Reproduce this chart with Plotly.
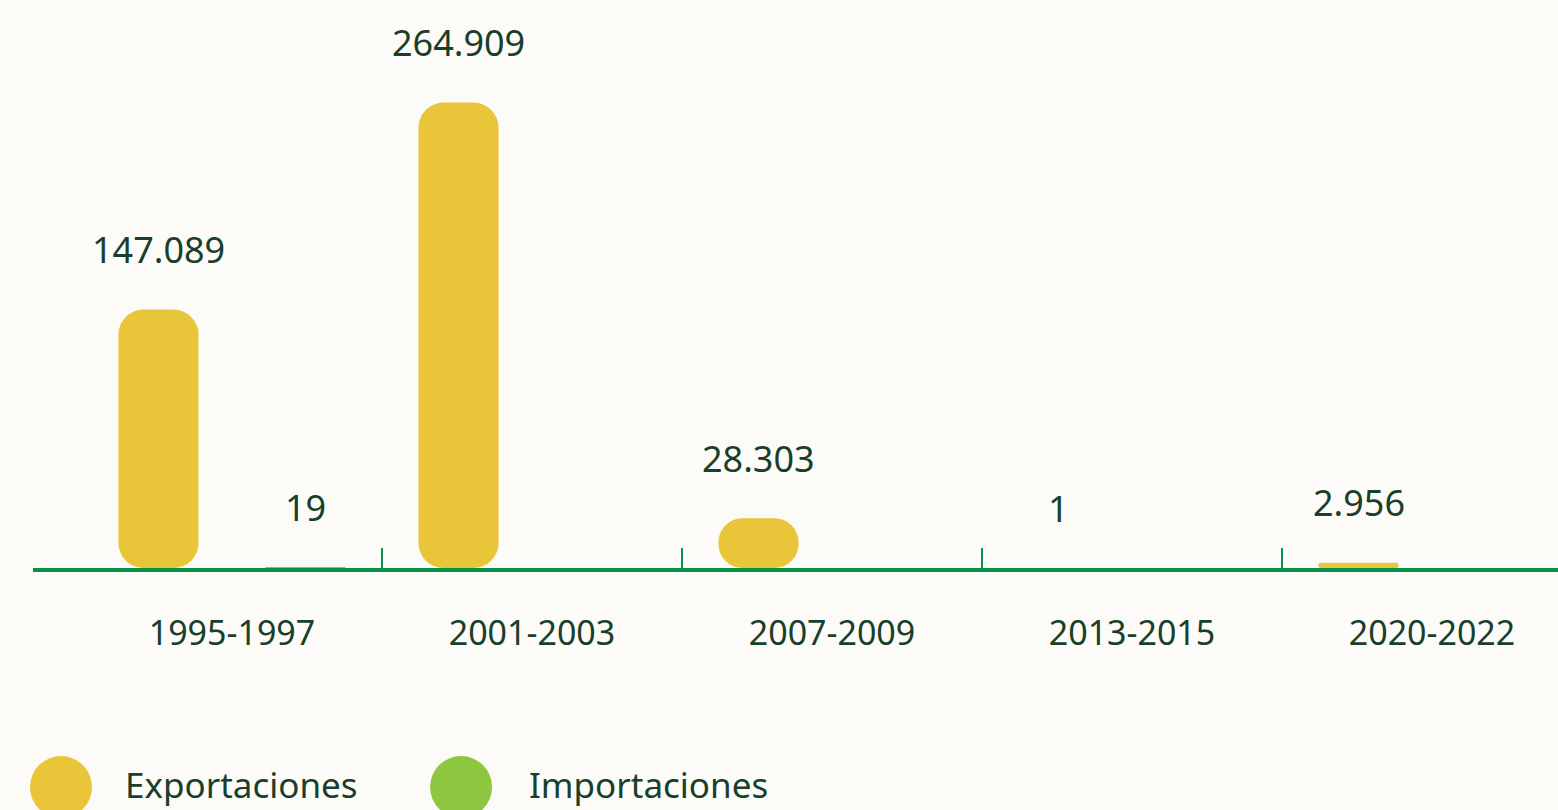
"""
Exportaciones / importaciones por periodo - barras redondeadas.
"""

import plotly.graph_objects as go


# ============================================================
# 1. Data
# ============================================================

periods = ["1995-1997", "2001-2003", "2007-2009", "2013-2015", "2020-2022"]
exports = [147089, 264909, 28303, 1, 2956]
imports = [19, None, None, None, None]

series_names = ["Exportaciones", "Importaciones"]


# ============================================================
# 2. Style
# ============================================================

BG = "#fdfbf7"
YELLOW = "#e9c53a"
LIGHT_GREEN = "#8dc63f"
AXIS_GREEN = "#07944a"
TEXT = "#173f2b"
FONT = "Noto Sans"

bar_width = 0.267      # in category units (1 category = 300 px)
export_center = -0.245
import_center = 0.245


def fmt(v):
    # Spanish thousands separator
    return f"{v:,}".replace(",", ".")


x_idx = list(range(len(periods)))

fig = go.Figure()

# An explicit base makes plotly round both ends of the bar.
for values, center, color in [
    (exports, export_center, YELLOW),
    (imports, import_center, LIGHT_GREEN),
]:
    vals = [v if v is not None else 0 for v in values]
    fig.add_trace(
        go.Bar(
            x=x_idx,
            y=vals,
            base=[0] * len(vals),
            offset=center - bar_width / 2,
            width=bar_width,
            marker=dict(color=color, line_width=0),
            showlegend=False,
            hoverinfo="skip",
        )
    )

    # value labels above the bars
    for i, v in zip(x_idx, values):
        if v is None:
            continue
        fig.add_annotation(
            x=i + center,
            y=v,
            xref="x",
            yref="y",
            text=fmt(v),
            showarrow=False,
            yshift=60,
            yanchor="middle",
            font=dict(family=FONT, size=36, color=TEXT),
        )

# Legend drawn by hand (big dots at the bottom)
legend_items = [
    (series_names[0], YELLOW, 0.01836, 0.059),
    (series_names[1], LIGHT_GREEN, 0.2807, 0.3239),
]
for name, color, dot_x, text_x in legend_items:
    fig.add_shape(
        type="circle",
        xref="paper",
        yref="paper",
        xsizemode="pixel",
        ysizemode="pixel",
        xanchor=dot_x,
        yanchor=-0.3856,
        x0=-31,
        x1=31,
        y0=-31,
        y1=31,
        fillcolor=color,
        line_width=0,
    )
    fig.add_annotation(
        x=text_x,
        y=-0.3856,
        xref="paper",
        yref="paper",
        text=name,
        showarrow=False,
        xanchor="left",
        yanchor="middle",
        yshift=3,
        font=dict(family=FONT, size=35, color=TEXT),
    )

fig.update_layout(
    width=1558,
    height=810,
    margin=dict(l=33, r=0, t=0, b=242),
    paper_bgcolor=BG,
    plot_bgcolor=BG,
    barmode="overlay",
    barcornerradius=25,
    showlegend=False,
    font=dict(family=FONT, color=TEXT),
    xaxis=dict(
        type="linear",
        range=[-0.6633, 4.42],
        tickmode="array",
        tickvals=x_idx,
        ticktext=periods,
        ticks="",
        tickfont=dict(family=FONT, size=34, color=TEXT),
        ticklabelstandoff=32,
        showgrid=False,
        zeroline=False,
        showline=True,
        linecolor=AXIS_GREEN,
        linewidth=4,
        layer="above traces",
        minor=dict(
            tickmode="array",
            tickvals=[0.5, 1.5, 2.5, 3.5],
            ticks="inside",
            ticklen=20,
            tickwidth=2,
            tickcolor=AXIS_GREEN,
            showgrid=False,
        ),
        fixedrange=True,
    ),
    yaxis=dict(
        range=[0, 323300],
        visible=False,
        showgrid=False,
        zeroline=False,
        fixedrange=True,
    ),
)

fig.write_html(
    "out.html",
    config={"displayModeBar": False},
    post_script="document.body.style.margin='0';",
)
